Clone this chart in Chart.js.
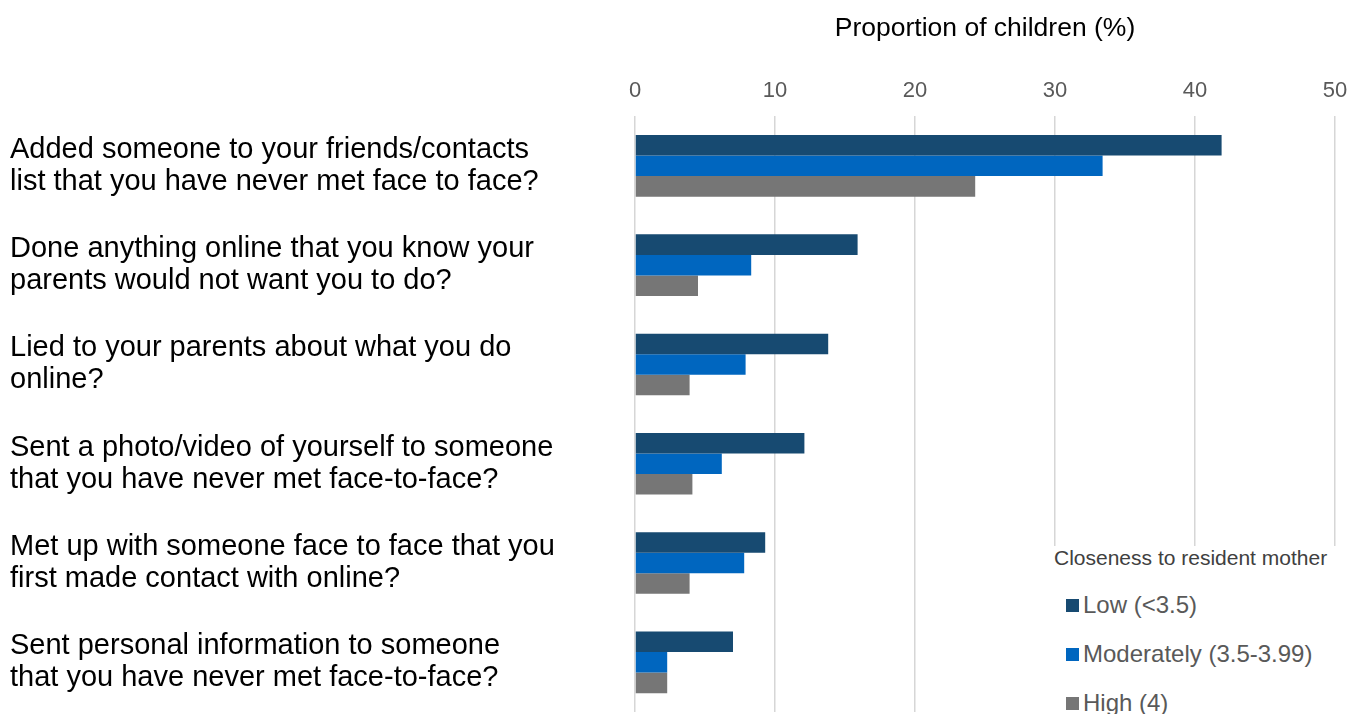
<!DOCTYPE html>
<html>
<head>
<meta charset="utf-8">
<title>Online behaviour by closeness to resident mother</title>
<script src="https://cdn.jsdelivr.net/npm/chart.js@4"></script>
<style>
  html, body { margin: 0; padding: 0; background: #ffffff; }
  #wrap { position: relative; width: 1362px; height: 714px; overflow: hidden; }
  #legend {
    position: absolute; left: 1045px; top: 546px; right: 0; bottom: 0;
    background: #ffffff; font-family: "Liberation Sans", Arial, sans-serif;
  }
  #legend .ttl { position: absolute; left: 9px; top: 0; font-size: 21px; color: #404040; line-height: 24px; white-space: nowrap; }
  #legend .item { position: absolute; left: 21px; font-size: 24px; color: #595959; line-height: 28px; white-space: nowrap; display: flex; align-items: center; }
  #legend .sw { display: inline-block; width: 13px; height: 13px; margin-right: 4px; }
</style>
</head>
<body>
<div id="wrap">
  <canvas id="chart" width="1362" height="714"></canvas>
  <div id="legend"></div>
</div>
<script>
// Survey items (category axis)
const questions = [
  ["Added someone to your friends/contacts", "list that you have never met face to face?"],
  ["Done anything online that you know your", "parents would not want you to do?"],
  ["Lied to your parents about what you do", "online?"],
  ["Sent a photo/video of yourself to someone", "that you have never met face-to-face?"],
  ["Met up with someone face to face that you", "first made contact with online?"],
  ["Sent personal information to someone", "that you have never met face-to-face?"]
];

// Proportion of children (%) by closeness to resident mother
const lowValues        = [41.9, 15.9, 13.8, 12.1, 9.3, 7.0];
const moderateValues   = [33.4, 8.3, 7.9, 6.2, 7.8, 2.3];
const highValues       = [24.3, 4.5, 3.9, 4.1, 3.9, 2.3];

const seriesNames = ["Low (<3.5)", "Moderately (3.5-3.99)", "High (4)"];
const seriesColors = ["#174A71", "#0066BF", "#767676"];
const xTicks = [0, 10, 20, 30, 40, 50];

const legendTitle = "Closeness to resident mother";
const axisTitle = "Proportion of children (%)";

const FONT = "'Liberation Sans', Arial, sans-serif";

// Builds the HTML legend from the chart's datasets
const htmlLegend = {
  id: 'htmlLegend',
  afterUpdate(chart) {
    const box = document.getElementById('legend');
    box.innerHTML = '';
    const t = document.createElement('div');
    t.className = 'ttl';
    t.textContent = legendTitle;
    box.appendChild(t);
    chart.data.datasets.forEach((ds, i) => {
      const row = document.createElement('div');
      row.className = 'item';
      row.style.top = (45 + i * 49) + 'px';
      const sw = document.createElement('span');
      sw.className = 'sw';
      sw.style.background = ds.backgroundColor;
      const lab = document.createElement('span');
      lab.textContent = ds.label;
      row.appendChild(sw);
      row.appendChild(lab);
      box.appendChild(row);
    });
  }
};

new Chart(document.getElementById('chart'), {
  type: 'bar',
  data: {
    labels: questions,
    datasets: [
      { label: seriesNames[0], data: lowValues, backgroundColor: seriesColors[0] },
      { label: seriesNames[1], data: moderateValues, backgroundColor: seriesColors[1] },
      { label: seriesNames[2], data: highValues, backgroundColor: seriesColors[2] }
    ]
  },
  options: {
    indexAxis: 'y',
    responsive: false,
    animation: false,
    layout: { padding: { top: 13, left: 10, right: 27, bottom: 2 } },
    datasets: {
      bar: { categoryPercentage: 0.62, barPercentage: 1.0, borderWidth: 0 }
    },
    plugins: {
      legend: { display: false },
      tooltip: { enabled: false }
    },
    scales: {
      x: {
        position: 'top',
        min: 0,
        max: 50,
        afterBuildTicks(scale) { scale.ticks = xTicks.map(v => ({ value: v })); },
        grid: { color: '#D6D6D6', lineWidth: 1.5, drawTicks: false },
        border: { display: false },
        ticks: { color: '#595959', font: { family: FONT, size: 22 }, padding: 12 },
        title: {
          display: true,
          text: axisTitle,
          color: '#000000',
          font: { family: FONT, size: 26.5 },
          padding: { top: 0, bottom: 21 }
        }
      },
      y: {
        grid: { display: false },
        border: { display: false },
        afterFit(scale) {
          scale.width = 625;
          scale.paddingTop = 0;
          scale.paddingBottom = 0;
        },
        ticks: {
          crossAlign: 'far',
          color: '#000000',
          font: { family: FONT, size: 29, lineHeight: '32px' }
        }
      }
    }
  },
  plugins: [htmlLegend]
});
</script>
</body>
</html>
